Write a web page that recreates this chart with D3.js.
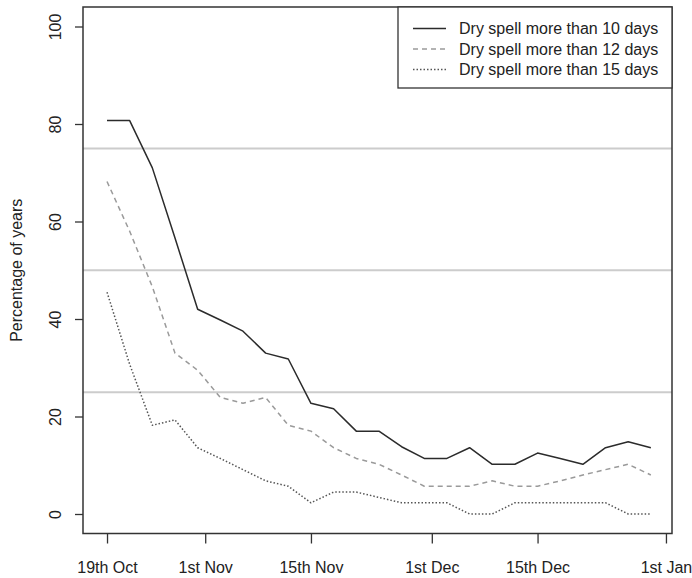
<!DOCTYPE html>
<html>
<head>
<meta charset="utf-8">
<script src="https://cdn.jsdelivr.net/npm/d3@7"></script>
<style>
  html, body { margin: 0; padding: 0; background: #fff; }
  svg { display: block; font-family: "Liberation Sans", Arial, sans-serif; }
</style>
</head>
<body>
<svg id="chart" width="692" height="578"></svg>
<script>
// Days after 19th October at which each value is recorded (every 3 days)
const days = [0, 3, 6, 9, 12, 15, 18, 21, 24, 27, 30, 33, 36, 39, 42, 45, 48, 51, 54, 57, 60, 63, 66, 69, 72];

// Percentage of years with a dry spell longer than the given length
const spell10 = [80.7, 80.7, 71.0, 56.6, 42.0, 39.8, 37.5, 33.0, 31.8, 22.7, 21.6, 17.0, 17.0,
                 13.8, 11.4, 11.4, 13.6, 10.2, 10.2, 12.5, 11.4, 10.2, 13.6, 14.8, 13.6];
const spell12 = [68.2, 58.0, 46.6, 33.0, 29.5, 23.9, 22.7, 23.9, 18.2, 17.0, 13.6, 11.4, 10.2,
                 8.0, 5.7, 5.7, 5.7, 6.8, 5.7, 5.7, 6.8, 8.0, 9.1, 10.2, 8.0];
const spell15 = [45.5, 30.7, 18.2, 19.3, 13.6, 11.4, 9.1, 6.8, 5.7, 2.3, 4.5, 4.5, 3.4,
                 2.3, 2.3, 2.3, 0, 0, 2.3, 2.3, 2.3, 2.3, 2.3, 0, 0];

const seriesNames = ["Dry spell more than 10 days", "Dry spell more than 12 days", "Dry spell more than 15 days"];

// Date tick labels and their day offsets from 19th October
const xTickLabels = ["19th Oct", "1st Nov", "15th Nov", "1st Dec", "15th Dec", "1st Jan"];
const xTickDays = [0, 13, 27, 43, 57, 74];
const yTicks = [0, 20, 40, 60, 80, 100];
const refLevels = [25, 50, 75];

const styles = [
  { color: "#2b2b2b", dash: null, width: 1.5 },
  { color: "#9a9a9a", dash: "5,4", width: 1.5 },
  { color: "#555555", dash: "1.5,2", width: 1.5 }
];

const svg = d3.select("#chart");
const box = { left: 83, right: 672, top: 7, bottom: 533.5 };

const x = d3.scaleLinear().domain([-3.18, 74.8]).range([box.left, box.right]);
const y = d3.scaleLinear().domain([-4, 104]).range([box.bottom, box.top]);

// Reference lines at quartile levels
svg.append("g")
  .selectAll("line")
  .data(refLevels)
  .join("line")
  .attr("x1", box.left).attr("x2", box.right)
  .attr("y1", d => y(d)).attr("y2", d => y(d))
  .attr("stroke", "#cccccc")
  .attr("stroke-width", 2);

// Series lines
const line = d3.line().x((d, i) => x(days[i])).y(d => y(d));
[spell10, spell12, spell15].forEach((vals, k) => {
  const p = svg.append("path")
    .datum(vals)
    .attr("d", line)
    .attr("fill", "none")
    .attr("stroke", styles[k].color)
    .attr("stroke-width", styles[k].width)
    .attr("stroke-linejoin", "round");
  if (styles[k].dash) p.attr("stroke-dasharray", styles[k].dash);
});

// Plot frame
svg.append("rect")
  .attr("x", box.left).attr("y", box.top)
  .attr("width", box.right - box.left).attr("height", box.bottom - box.top)
  .attr("fill", "none").attr("stroke", "#333").attr("stroke-width", 1.5);

// Y axis
const yAxis = d3.axisLeft(y).tickValues(yTicks).tickSize(8).tickPadding(0).tickFormat(d3.format("d"));
const gy = svg.append("g").attr("transform", `translate(${box.left},0)`).call(yAxis);
gy.select(".domain").remove();
gy.selectAll(".tick line").attr("stroke", "#333").attr("stroke-width", 1.3);
gy.selectAll(".tick text")
  .attr("x", null).attr("dy", null)
  .attr("transform", "translate(-28,0) rotate(-90)")
  .attr("text-anchor", "middle")
  .attr("dy", "0.35em")
  .attr("font-size", 16)
  .attr("font-family", "Liberation Sans, Arial, sans-serif")
  .attr("fill", "#222");

// X axis
const xAxis = d3.axisBottom(x).tickValues(xTickDays).tickSize(10).tickPadding(0)
  .tickFormat((d, i) => xTickLabels[i]);
const gx = svg.append("g").attr("transform", `translate(0,${box.bottom})`).call(xAxis);
gx.select(".domain").remove();
gx.selectAll(".tick line").attr("stroke", "#333").attr("stroke-width", 1.3);
gx.selectAll(".tick text")
  .attr("y", 39).attr("dy", null)
  .attr("font-size", 16)
  .attr("font-family", "Liberation Sans, Arial, sans-serif")
  .attr("fill", "#222");

// Y axis title
svg.append("text")
  .attr("transform", `translate(22,${(box.top + box.bottom) / 2}) rotate(-90)`)
  .attr("text-anchor", "middle")
  .attr("font-size", 16)
  .attr("fill", "#222")
  .text("Percentage of years");

// Legend
const lg = { x0: 398, y0: box.top, x1: box.right, y1: 88 };
svg.append("rect")
  .attr("x", lg.x0).attr("y", lg.y0)
  .attr("width", lg.x1 - lg.x0).attr("height", lg.y1 - lg.y0)
  .attr("fill", "#fff").attr("stroke", "#333").attr("stroke-width", 1.3);

const rowY = [28.5, 49, 69.5];
seriesNames.forEach((name, k) => {
  const l = svg.append("line")
    .attr("x1", 413).attr("x2", 446)
    .attr("y1", rowY[k]).attr("y2", rowY[k])
    .attr("stroke", styles[k].color)
    .attr("stroke-width", styles[k].width);
  if (styles[k].dash) l.attr("stroke-dasharray", styles[k].dash);
  svg.append("text")
    .attr("x", 459).attr("y", rowY[k])
    .attr("dy", "0.35em")
    .attr("font-size", 16)
    .attr("fill", "#222")
    .text(name);
});
</script>
</body>
</html>
